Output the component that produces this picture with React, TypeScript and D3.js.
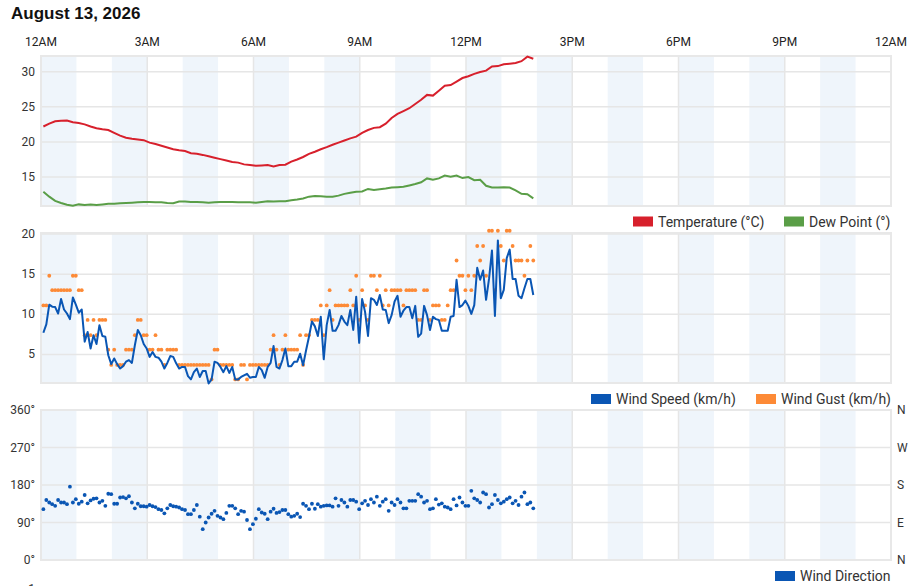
import React from 'react';
import * as d3 from 'd3';

const W = 913;
const H = 586;
const X0 = 41;
const X1 = 891;

const dateTitle = 'August 13, 2026';
const hourTicks = [0, 3, 6, 9, 12, 15, 18, 21, 24];
const hourLabels = ['12AM', '3AM', '6AM', '9AM', '12PM', '3PM', '6PM', '9PM', '12AM'];
const shadedHours = [0, 2, 4, 6, 8, 10, 12, 14, 16, 18, 20, 22];

// temperature + dew point every 10 min starting 00:04
const tempStartMin = 4;
const tempStepMin = 10;
const temperature = [
  22.2, 22.6, 22.95, 23.0, 23.05, 22.8, 22.7, 22.5, 22.2, 21.95,
  21.8, 21.7, 21.3, 20.9, 20.6, 20.45, 20.35, 20.25, 19.9, 19.7,
  19.45, 19.2, 18.95, 18.8, 18.7, 18.4, 18.3, 18.15, 17.95, 17.75,
  17.55, 17.35, 17.15, 17.05, 16.8, 16.7, 16.6, 16.65, 16.7, 16.5,
  16.7, 16.75, 17.2, 17.5, 17.85, 18.3, 18.6, 18.95, 19.25, 19.6,
  19.9, 20.2, 20.5, 20.75, 21.3, 21.7, 22.0, 22.1, 22.6, 23.4,
  24.0, 24.4, 24.8, 25.4, 26.0, 26.7, 26.6, 27.3, 28.0, 28.1,
  28.6, 29.1, 29.35, 29.7, 29.95, 30.15, 30.75, 30.8, 31.05, 31.15,
  31.25, 31.5, 32.15, 31.85,
];
const dewPoint = [
  12.9, 12.2, 11.6, 11.3, 11.05, 10.9, 11.1, 11.0, 11.1, 11.0,
  11.1, 11.2, 11.2, 11.25, 11.3, 11.35, 11.4, 11.45, 11.45, 11.4,
  11.4, 11.3, 11.25, 11.5, 11.5, 11.45, 11.45, 11.4, 11.35, 11.4,
  11.45, 11.45, 11.45, 11.4, 11.4, 11.4, 11.35, 11.45, 11.55, 11.5,
  11.55, 11.55, 11.7, 11.8, 11.95, 12.2, 12.3, 12.25, 12.2, 12.2,
  12.35, 12.6, 12.75, 12.9, 12.95, 13.3, 13.15, 13.25, 13.35, 13.5,
  13.55, 13.6, 13.8, 14.0, 14.25, 14.8, 14.6, 14.8, 15.2, 15.05,
  15.2, 14.85, 15.0, 14.55, 14.6, 13.75, 13.5, 13.5, 13.55, 13.5,
  13.1, 12.6, 12.55, 11.95,
];

// wind every 5 min starting 00:04
const windStartMin = 4;
const windStepMin = 5;
const windSpeed = [
  7.7, 8.75, 11.2, 10.95, 10.9, 10.1, 11.9, 10.6, 10.1, 9.4,
  12.1, 11.2, 10.2, 10.6, 6.6, 7.8, 5.75, 7.4, 6.3, 8.65,
  7.3, 7.2, 4.9, 3.8, 4.5, 3.8, 3.25, 3.55, 4.1, 4.3,
  3.95, 6.15, 8.05, 7.4, 6.3, 5.75, 4.7, 5.3, 4.7, 4.6,
  4.1, 3.25, 3.95, 4.8, 4.7, 3.9, 3.25, 3.45, 3.45, 2.3,
  1.9, 2.8, 3.25, 2.2, 2.95, 2.95, 1.4, 1.9, 4.1, 3.95,
  3.45, 2.8, 3.55, 2.7, 3.45, 1.9, 1.9, 2.2, 2.4, 2.6,
  2.1, 2.2, 2.2, 3.45, 3.05, 2.1, 3.45, 3.95, 6.05, 3.45,
  3.25, 4.3, 5.75, 3.55, 3.55, 4.1, 4.1, 5.1, 3.65, 5.5,
  7.2, 9.1, 8.5, 7.3, 9.7, 4.4, 8.65, 10.55, 7.95, 7.95,
  8.65, 9.8, 9.1, 8.65, 10.55, 8.05, 12.2, 6.45, 11.9, 10.3,
  7.3, 12.0, 11.8, 11.15, 12.4, 10.6, 10.55, 8.9, 9.9, 11.6,
  12.3, 9.7, 10.45, 10.9, 10.9, 9.5, 11.05, 7.2, 7.6, 11.05,
  9.9, 8.05, 9.7, 9.4, 9.3, 7.95, 7.95, 7.95, 9.7, 9.8,
  14.3, 10.9, 11.15, 11.7, 11.05, 10.05, 11.15, 15.8, 14.3, 15.45,
  11.8, 14.4, 17.95, 9.8, 19.2, 12.0, 13.05, 17.0, 18.05, 14.4,
  14.4, 12.3, 12.0, 13.25, 14.4, 14.4, 12.4,
];
const windGust = [
  11.1, 11.1, 14.8, 13.0, 13.0, 13.0, 13.0, 13.0, 13.0, 13.0,
  14.8, 14.8, 13.0, 13.0, 7.4, 9.3, 7.4, 9.3, 7.4, 9.3,
  9.3, 9.3, 5.6, 3.7, 5.6, 3.7, 3.7, 3.7, 5.6, 5.6,
  5.6, 7.4, 9.3, 9.3, 7.4, 7.4, 5.6, 5.6, 7.4, 5.6,
  5.6, 3.7, 5.6, 5.6, 5.6, 5.6, 3.7, 3.7, 3.7, 3.7,
  3.7, 3.7, 3.7, 3.7, 3.7, 3.7, 3.7, 1.9, 5.6, 5.6,
  3.7, 3.7, 3.7, 3.7, 3.7, 1.9, 1.9, 3.7, 3.7, 1.9,
  3.7, 3.7, 3.7, 3.7, 3.7, 3.7, 3.7, 5.6, 7.4, 5.6,
  3.7, 5.6, 7.4, 5.6, 5.6, 5.6, 5.6, 7.4, 3.7, 7.4,
  7.4, 9.3, 9.3, 9.3, 11.1, 7.4, 11.1, 13.0, 9.3, 11.1,
  11.1, 11.1, 11.1, 11.1, 13.0, 11.1, 14.8, 9.3, 13.0, 11.1,
  9.3, 14.8, 14.8, 13.0, 14.8, 11.1, 13.0, 11.1, 13.0, 13.0,
  13.0, 13.0, 11.1, 13.0, 13.0, 13.0, 13.0, 9.3, 9.3, 13.0,
  13.0, 9.3, 11.1, 11.1, 11.1, 9.3, 9.3, 11.1, 13.0, 13.0,
  16.7, 14.8, 14.8, 13.0, 14.8, 13.0, 14.8, 18.5, 16.7, 18.5,
  14.8, 20.4, 20.4, 13.0, 20.4, 18.5, 16.7, 20.4, 20.4, 18.5,
  16.7, 16.7, 16.7, 14.8, 16.7, 18.5, 16.7,
];
const windDirection = [
  122, 144, 138, 134, 130, 144, 138, 138, 134, 176,
  138, 146, 135, 140, 156, 136, 143, 147, 148, 138,
  142, 130, 159, 158, 135, 135, 150, 151, 148, 153,
  138, 124, 135, 129, 129, 128, 132, 129, 127, 122,
  120, 112, 124, 132, 129, 128, 126, 122, 120, 110,
  110, 120, 132, 104, 74, 90, 102, 111, 118, 106,
  102, 98, 113, 130, 130, 124, 110, 118, 116, 96,
  74, 86, 99, 122, 114, 111, 98, 116, 123, 113,
  115, 120, 120, 110, 104, 106, 111, 103, 135, 130,
  122, 135, 123, 134, 128, 130, 131, 131, 128, 148,
  130, 144, 138, 128, 144, 144, 140, 122, 136, 142,
  132, 146, 138, 152, 130, 140, 146, 118, 138, 132,
  146, 138, 124, 124, 142, 142, 142, 158, 152, 138,
  142, 122, 124, 146, 133, 136, 128, 126, 122, 146,
  131, 150, 138, 130, 130, 166, 148, 144, 138, 162,
  158, 126, 134, 156, 144, 136, 140, 146, 150, 136,
  142, 132, 152, 162, 134, 138, 124,
];

const tempTicks = [15, 20, 25, 30];
const windTicks = [5, 10, 15, 20];
const dirTicks = [0, 90, 180, 270, 360];
const dirTickLabels = ['0°', '90°', '180°', '270°', '360°'];
const compassLabels = ['N', 'E', 'S', 'W', 'N'];

const tempLegend = [
  { label: 'Temperature (°C)', color: '#d7202c', x: 633 },
  { label: 'Dew Point (°)', color: '#5a9e47', x: 784 },
];
const windLegend = [
  { label: 'Wind Speed (km/h)', color: '#0a56b4', x: 591 },
  { label: 'Wind Gust (km/h)', color: '#fd8a36', x: 756 },
];
const dirLegend = [{ label: 'Wind Direction', color: '#0a56b4', x: 775 }];

const FONT = 'Roboto, "Noto Sans", sans-serif';

const x = d3.scaleLinear().domain([0, 24 * 60]).range([X0, X1]);

type Panel = { top: number; h: number };
const P1: Panel = { top: 56, h: 150 };
const P2: Panel = { top: 233, h: 150 };
const P3: Panel = { top: 410, h: 150 };

function Frame({ p }: { p: Panel }) {
  return (
    <g>
      {shadedHours.map((hr) => (
        <rect key={hr} x={x(hr * 60)} y={p.top} width={x(60) - x(0)} height={p.h} fill="#eff5fb" />
      ))}
      {hourTicks.slice(1, -1).map((hr) => (
        <line key={hr} x1={x(hr * 60)} x2={x(hr * 60)} y1={p.top} y2={p.top + p.h} stroke="#e6e6e6" strokeWidth={1.5} />
      ))}
    </g>
  );
}

function Border({ p }: { p: Panel }) {
  return <rect x={X0} y={p.top} width={X1 - X0} height={p.h} fill="none" stroke="#e8e8e8" strokeWidth={2} />;
}

function Legend({ items, y }: { items: { label: string; color: string; x: number }[]; y: number }) {
  return (
    <g>
      {items.map((it) => (
        <g key={it.label}>
          <rect x={it.x} y={y - 10} width={20} height={10} fill={it.color} />
          <text x={it.x + 25} y={y} fontSize={14} fontFamily={FONT} fill="#333">{it.label}</text>
        </g>
      ))}
    </g>
  );
}

export default function App() {
  const yT = d3.scaleLinear().domain([10.87, 32.24]).range([P1.top + P1.h, P1.top]);
  const yW = d3.scaleLinear().domain([1.45, 20.12]).range([P2.top + P2.h, P2.top]);
  const yD = d3.scaleLinear().domain([0, 360]).range([P3.top + P3.h, P3.top]);

  const tMin = (i: number) => tempStartMin + tempStepMin * i;
  const wMin = (i: number) => windStartMin + windStepMin * i;

  const tLine = d3.line<number>().x((_, i) => x(tMin(i))).y((d) => yT(d));
  const wLine = d3.line<number>().x((_, i) => x(wMin(i))).y((d) => yW(d));

  return (
    <svg width={W} height={H} style={{ position: 'absolute', left: 0, top: 0, background: '#fff' }}>
      <text x={11} y={19} fontSize={17} fontWeight="bold" fontFamily='"Liberation Sans", Arial, sans-serif' fill="#111">
        {dateTitle}
      </text>
      {hourTicks.map((hr, i) => (
        <text key={i} x={x(hr * 60)} y={46} fontSize={12} fontFamily={FONT} fill="#222" textAnchor="middle">
          {hourLabels[i]}
        </text>
      ))}

      {/* temperature panel */}
      <Frame p={P1} />
      {tempTicks.map((t) => (
        <g key={t}>
          <line x1={X0} x2={X1} y1={yT(t)} y2={yT(t)} stroke="#e6e6e6" strokeWidth={1.5} />
          <text x={35} y={yT(t) + 4} fontSize={12} fontFamily={FONT} fill="#333" textAnchor="end">{t}</text>
        </g>
      ))}
      <Border p={P1} />
      <path d={tLine(dewPoint) || ''} fill="none" stroke="#5a9e47" strokeWidth={2} />
      <path d={tLine(temperature) || ''} fill="none" stroke="#d7202c" strokeWidth={2} />
      <Legend items={tempLegend} y={226.5} />

      {/* wind panel */}
      <Frame p={P2} />
      {windTicks.map((t) => (
        <g key={t}>
          <line x1={X0} x2={X1} y1={yW(t)} y2={yW(t)} stroke="#e6e6e6" strokeWidth={1.5} />
          <text x={35} y={yW(t) + 4} fontSize={12} fontFamily={FONT} fill="#333" textAnchor="end">{t}</text>
        </g>
      ))}
      <Border p={P2} />
      {windGust.map((g, i) => (
        <circle key={i} cx={x(wMin(i))} cy={yW(g)} r={1.9} fill="#fd8a36" />
      ))}
      <path d={wLine(windSpeed) || ''} fill="none" stroke="#0a56b4" strokeWidth={2} strokeLinejoin="round" />
      <Legend items={windLegend} y={404} />

      {/* direction panel */}
      <Frame p={P3} />
      {dirTicks.map((t, i) => (
        <g key={t}>
          <line x1={X0} x2={X1} y1={yD(t)} y2={yD(t)} stroke="#e6e6e6" strokeWidth={1.5} />
          <text x={35} y={yD(t) + 4} fontSize={12} fontFamily={FONT} fill="#333" textAnchor="end">{dirTickLabels[i]}</text>
          <text x={897} y={yD(t) + 4} fontSize={12} fontFamily={FONT} fill="#333">{compassLabels[i]}</text>
        </g>
      ))}
      <Border p={P3} />
      {windDirection.map((d, i) => (
        <circle key={i} cx={x(wMin(i))} cy={yD(d)} r={1.9} fill="#0a56b4" />
      ))}
      <Legend items={dirLegend} y={581} />

      <text x={35} y={593} fontSize={12} fontFamily={FONT} fill="#333" textAnchor="end">1</text>
    </svg>
  );
}
